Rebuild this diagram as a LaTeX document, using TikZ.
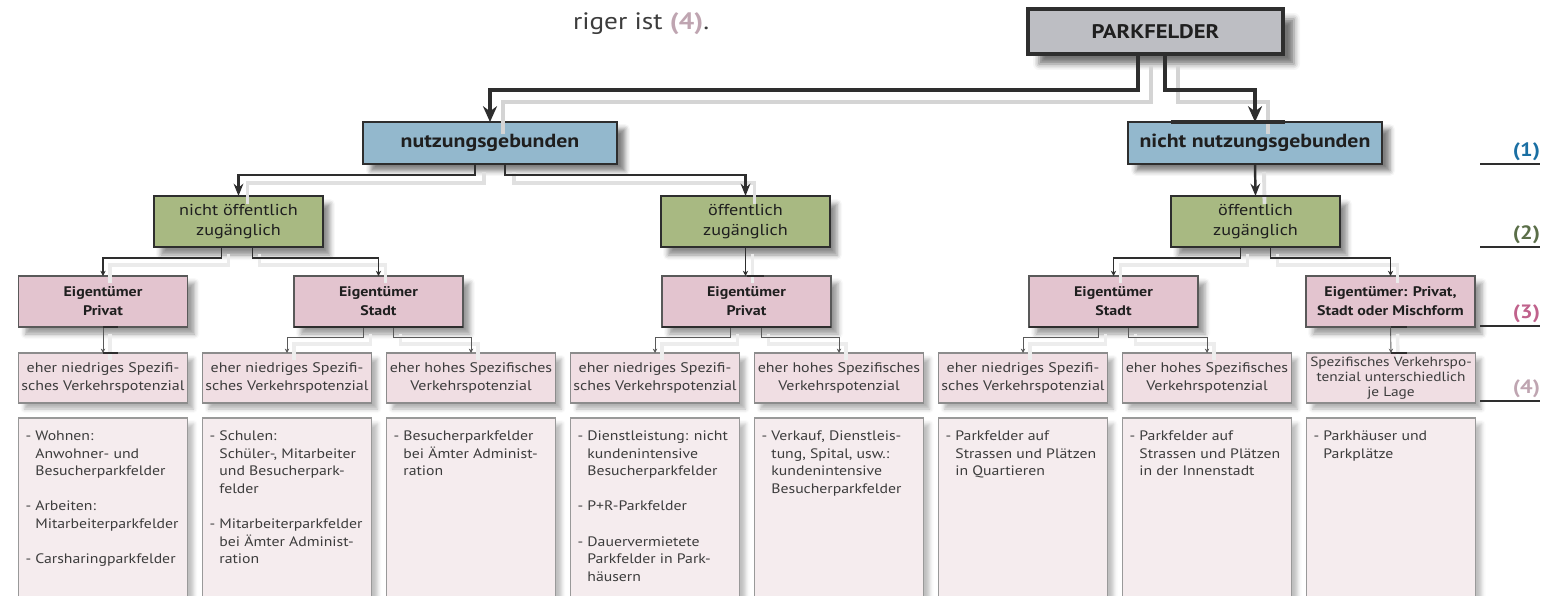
\documentclass[tikz,border=0pt]{standalone}
\usepackage{fontspec}
\setmainfont{PT Sans}[FakeStretch=1.15]
\usetikzlibrary{arrows.meta}
\usetikzlibrary{shadows.blur}

\definecolor{boxgray}{HTML}{BDBEC3}
\definecolor{boxblue}{HTML}{93B8CD}
\definecolor{boxgreen}{HTML}{A8B982}
\definecolor{boxrose}{HTML}{E3C4CF}
\definecolor{boxpale}{HTML}{F0DEE3}
\definecolor{boxlight}{HTML}{F5ECEE}
\definecolor{linedark}{HTML}{2E2E2E}
\definecolor{labone}{HTML}{1A6FA3}
\definecolor{labtwo}{HTML}{5A6E48}
\definecolor{labthree}{HTML}{C0628C}
\definecolor{labfour}{HTML}{BFA5B1}
\definecolor{txtgray}{HTML}{3C3C3C}

\newcommand{\hng}{\phantom{- }}

\begin{document}
\begin{tikzpicture}[x=0.02cm,y=-0.02cm,
  every node/.style={outer sep=0pt},
  box/.style={draw=linedark,align=center,text=black!88,inner sep=2pt},
  rootbox/.style={box,fill=boxgray,line width=1.9pt,minimum width=5.1cm,minimum height=0.9cm,
    font=\fontsize{11.2}{13}\selectfont\bfseries,
    blur shadow={shadow xshift=0.22cm,shadow yshift=-0.2cm,shadow blur radius=0.12cm,shadow opacity=55}},
  usebox/.style={box,fill=boxblue,line width=1.3pt,minimum width=5.08cm,minimum height=0.84cm,
    font=\fontsize{10.8}{12}\selectfont\bfseries,
    blur shadow={shadow xshift=0.16cm,shadow yshift=-0.14cm,shadow blur radius=0.1cm,shadow opacity=50}},
  accessbox/.style={box,fill=boxgreen,line width=1pt,minimum width=3.38cm,minimum height=1.02cm,
    font=\fontsize{9}{11.3}\selectfont,
    blur shadow={shadow xshift=0.14cm,shadow yshift=-0.16cm,shadow blur radius=0.1cm,shadow opacity=45}},
  ownerbox/.style={box,draw=black!65,fill=boxrose,line width=0.8pt,minimum width=3.38cm,minimum height=1.02cm,
    font=\fontsize{7.9}{10.8}\selectfont\bfseries,
    blur shadow={shadow xshift=0.14cm,shadow yshift=-0.14cm,shadow blur radius=0.1cm,shadow opacity=40}},
  potbox/.style={box,draw=black!45,fill=boxpale,line width=0.6pt,minimum width=3.38cm,minimum height=1cm,
    inner xsep=1pt,text=txtgray,font=\fontsize{7.9}{10.2}\selectfont,
    blur shadow={shadow xshift=0.12cm,shadow yshift=-0.12cm,shadow blur radius=0.08cm,shadow opacity=30}},
  listbox/.style={draw=black!40,fill=boxlight,line width=0.6pt,inner xsep=0.14cm,inner ysep=0.26cm,
    text=txtgray,font=\fontsize{7.8}{10}\selectfont,anchor=north,
    blur shadow={shadow xshift=0.12cm,shadow yshift=-0.12cm,shadow blur radius=0.08cm,shadow opacity=25}},
  topline/.style={draw=linedark,line width=1.8pt,-{Stealth[length=9pt,width=8pt]},
    preaction={draw=black!17,line width=2.6pt,-,transform canvas={shift={(0.26cm,-0.24cm)}}}},
  midline/.style={draw=linedark,line width=1.4pt,-{Stealth[length=7pt,width=5.5pt]},
    preaction={draw=black!12,line width=2.2pt,-,transform canvas={shift={(0.18cm,-0.16cm)}}}},
  thinline/.style={draw=linedark,line width=0.6pt,-{Stealth[length=3pt,width=3pt]},
    preaction={draw=black!8,line width=2pt,-,transform canvas={shift={(0.14cm,-0.14cm)}}}},
  lowline/.style={draw=black!65,line width=0.5pt,-{Stealth[length=2.5pt,width=2.5pt]},
    preaction={draw=black!7,line width=2pt,-,transform canvas={shift={(0.14cm,-0.14cm)}}}},
  tick/.style={draw=linedark,line width=1.2pt},
  rule/.style={draw=linedark,line width=0.6pt},
  tag/.style={anchor=south east,inner sep=0pt,font=\fontsize{11}{13}\selectfont\bfseries}]

\useasboundingbox (0,0) rectangle (1557,595);

%text line above the chart
\node[anchor=base west,inner sep=0pt,text=txtgray,font=\fontsize{13.5}{15}\selectfont] (intro) at (573,30)
  {riger ist \textbf{\textcolor{labfour}{(4)}}.};

%boxes level 0 and 1
\node[rootbox] (parkfelder) at (1155.5,31.5) {PARKFELDER};
\node[usebox] (nutzung) at (490,143) {nutzungsgebunden};
\node[usebox] (nichtnutzung) at (1255,143) {nicht nutzungsgebunden};

%boxes level 2
\node[accessbox] (nichtoeff) at (238.5,221.5) {nicht öffentlich\\zugänglich};
\node[accessbox] (oeffA) at (745.5,221.5) {öffentlich\\zugänglich};
\node[accessbox] (oeffB) at (1255.5,221.5) {öffentlich\\zugänglich};

%boxes level 3
\node[ownerbox] (privA) at (103,301.5) {Eigentümer\\Privat};
\node[ownerbox] (stadtA) at (378.5,301.5) {Eigentümer\\Stadt};
\node[ownerbox] (privB) at (746.5,301.5) {Eigentümer\\Privat};
\node[ownerbox] (stadtB) at (1113.5,301.5) {Eigentümer\\Stadt};
\node[ownerbox] (mixform) at (1390.5,301.5) {Eigentümer: Privat,\\Stadt oder Mischform};

%boxes level 4
\node[potbox] (pot1) at (103,378) {eher niedriges Spezifi-\\sches Verkehrspotenzial};
\node[potbox] (pot2) at (287,378) {eher niedriges Spezifi-\\sches Verkehrspotenzial};
\node[potbox] (pot3) at (471,378) {eher hohes Spezifisches\\Verkehrspotenzial};
\node[potbox] (pot4) at (655,378) {eher niedriges Spezifi-\\sches Verkehrspotenzial};
\node[potbox] (pot5) at (839,378) {eher hohes Spezifisches\\Verkehrspotenzial};
\node[potbox] (pot6) at (1023,378) {eher niedriges Spezifi-\\sches Verkehrspotenzial};
\node[potbox] (pot7) at (1207,378) {eher hohes Spezifisches\\Verkehrspotenzial};
\node[potbox,inner xsep=0pt,font=\fontsize{7.6}{8.6}\selectfont] (pot8) at (1391,378) {Spezifisches Verkehrspo-\\tenzial unterschiedlich\\je Lage};

%boxes level 5
\node[listbox] (list1) at (103,418) {\parbox[t][3.12cm][t]{3.1cm}{- Wohnen:\\\hng Anwohner- und\\\hng Besucherparkfelder\\[10pt]- Arbeiten:\\\hng Mitarbeiterparkfelder\\[10pt]- Carsharingparkfelder}};
\node[listbox] (list2) at (287,418) {\parbox[t][3.12cm][t]{3.1cm}{- Schulen:\\\hng Schüler-, Mitarbeiter\\\hng und Besucherpark-\\\hng felder\\[10pt]- Mitarbeiterparkfelder\\\hng bei Ämter Administ-\\\hng ration}};
\node[listbox] (list3) at (471,418) {\parbox[t][3.12cm][t]{3.1cm}{- Besucherparkfelder\\\hng bei Ämter Administ-\\\hng ration}};
\node[listbox] (list4) at (655,418) {\parbox[t][3.12cm][t]{3.1cm}{- Dienstleistung: nicht\\\hng kundenintensive\\\hng Besucherparkfelder\\[10pt]- P+R-Parkfelder\\[10pt]- Dauervermietete\\\hng Parkfelder in Park-\\\hng häusern}};
\node[listbox] (list5) at (839,418) {\parbox[t][3.12cm][t]{3.1cm}{- Verkauf, Dienstleis-\\\hng tung, Spital, usw.:\\\hng kundenintensive\\\hng Besucherparkfelder}};
\node[listbox] (list6) at (1023,418) {\parbox[t][3.12cm][t]{3.1cm}{- Parkfelder auf\\\hng Strassen und Plätzen\\\hng in Quartieren}};
\node[listbox] (list7) at (1207,418) {\parbox[t][3.12cm][t]{3.1cm}{- Parkfelder auf\\\hng Strassen und Plätzen\\\hng in der Innenstadt}};
\node[listbox] (list8) at (1391,418) {\parbox[t][3.12cm][t]{3.1cm}{- Parkhäuser und\\\hng Parkplätze}};

%arrows level 0 to 1
\draw[topline] ([xshift=-0.35cm]parkfelder.south) -- ++(0,36) -| (nutzung.north);
\draw[topline] ([xshift=0.19cm]parkfelder.south) -- ++(0,36) -| (nichtnutzung.north);

%arrows level 1 to 2
\draw[midline] ([xshift=-0.3cm]nutzung.south) -- ++(0,11) -| (nichtoeff.north);
\draw[midline] ([xshift=0.3cm]nutzung.south) -- ++(0,11) -| (oeffA.north);
\draw[midline] (nichtnutzung.south) -- (oeffB.north);

%arrows level 2 to 3
\draw[thinline] ([xshift=-0.34cm]nichtoeff.south) -- ++(0,11) -| (privA.north);
\draw[thinline] ([xshift=0.28cm]nichtoeff.south) -- ++(0,11) -| (stadtA.north);
\draw[thinline] (oeffA.south) -- (oeffA.south |- privB.north);
\draw[thinline] ([xshift=-0.3cm]oeffB.south) -- ++(0,11) -| (stadtB.north);
\draw[thinline] ([xshift=0.3cm]oeffB.south) -- ++(0,11) -| (mixform.north);

%arrows level 3 to 4
\draw[lowline] (privA.south) -- (pot1.north);
\draw[lowline] ([xshift=-0.3cm]stadtA.south) -- ++(0,10) -| (pot2.north);
\draw[lowline] ([xshift=0.3cm]stadtA.south) -- ++(0,10) -| (pot3.north);
\draw[lowline] ([xshift=-0.32cm]privB.south) -- ++(0,10) -| (pot4.north);
\draw[lowline] ([xshift=0.3cm]privB.south) -- ++(0,10) -| (pot5.north);
\draw[lowline] ([xshift=-0.3cm]stadtB.south) -- ++(0,10) -| (pot6.north);
\draw[lowline] ([xshift=0.3cm]stadtB.south) -- ++(0,10) -| (pot7.north);
\draw[lowline] (mixform.south) -- (pot8.north);

%heavy bits on the box edges
\draw[line width=1.8pt,draw=linedark] ([xshift=-1.68cm]nichtnutzung.north) -- ([xshift=0.6cm]nichtnutzung.north);
\draw[tick] (oeffB.north) -- ++(22,0);
\draw[tick] (privB.north) -- ++(17,0);
\draw[tick] (privA.south) -- ++(15,0);
\draw[tick] (pot1.north) -- ++(15,0);
\draw[tick] (mixform.south) -- ++(16,0);
\draw[tick] (pot8.north) -- ++(16,0);
\draw[tick] (stadtA.south west) -- (stadtA.south east);
\draw[tick] (privB.south west) -- (privB.south east);
\draw[tick] (stadtB.south west) -- (stadtB.south east);

%level marks on the right
\node[tag,text=labone] (tag1) at (1540,161) {(1)};
\node[tag,text=labtwo] (tag2) at (1540,244) {(2)};
\node[tag,text=labthree] (tag3) at (1540,323) {(3)};
\node[tag,text=labfour] (tag4) at (1540,398) {(4)};
\draw[rule] (1480,164) -- (1540,164);
\draw[rule] (1480,247) -- (1540,247);
\draw[rule] (1480,326) -- (1540,326);
\draw[rule] (1480,401) -- (1540,401);

\end{tikzpicture}
\end{document}
